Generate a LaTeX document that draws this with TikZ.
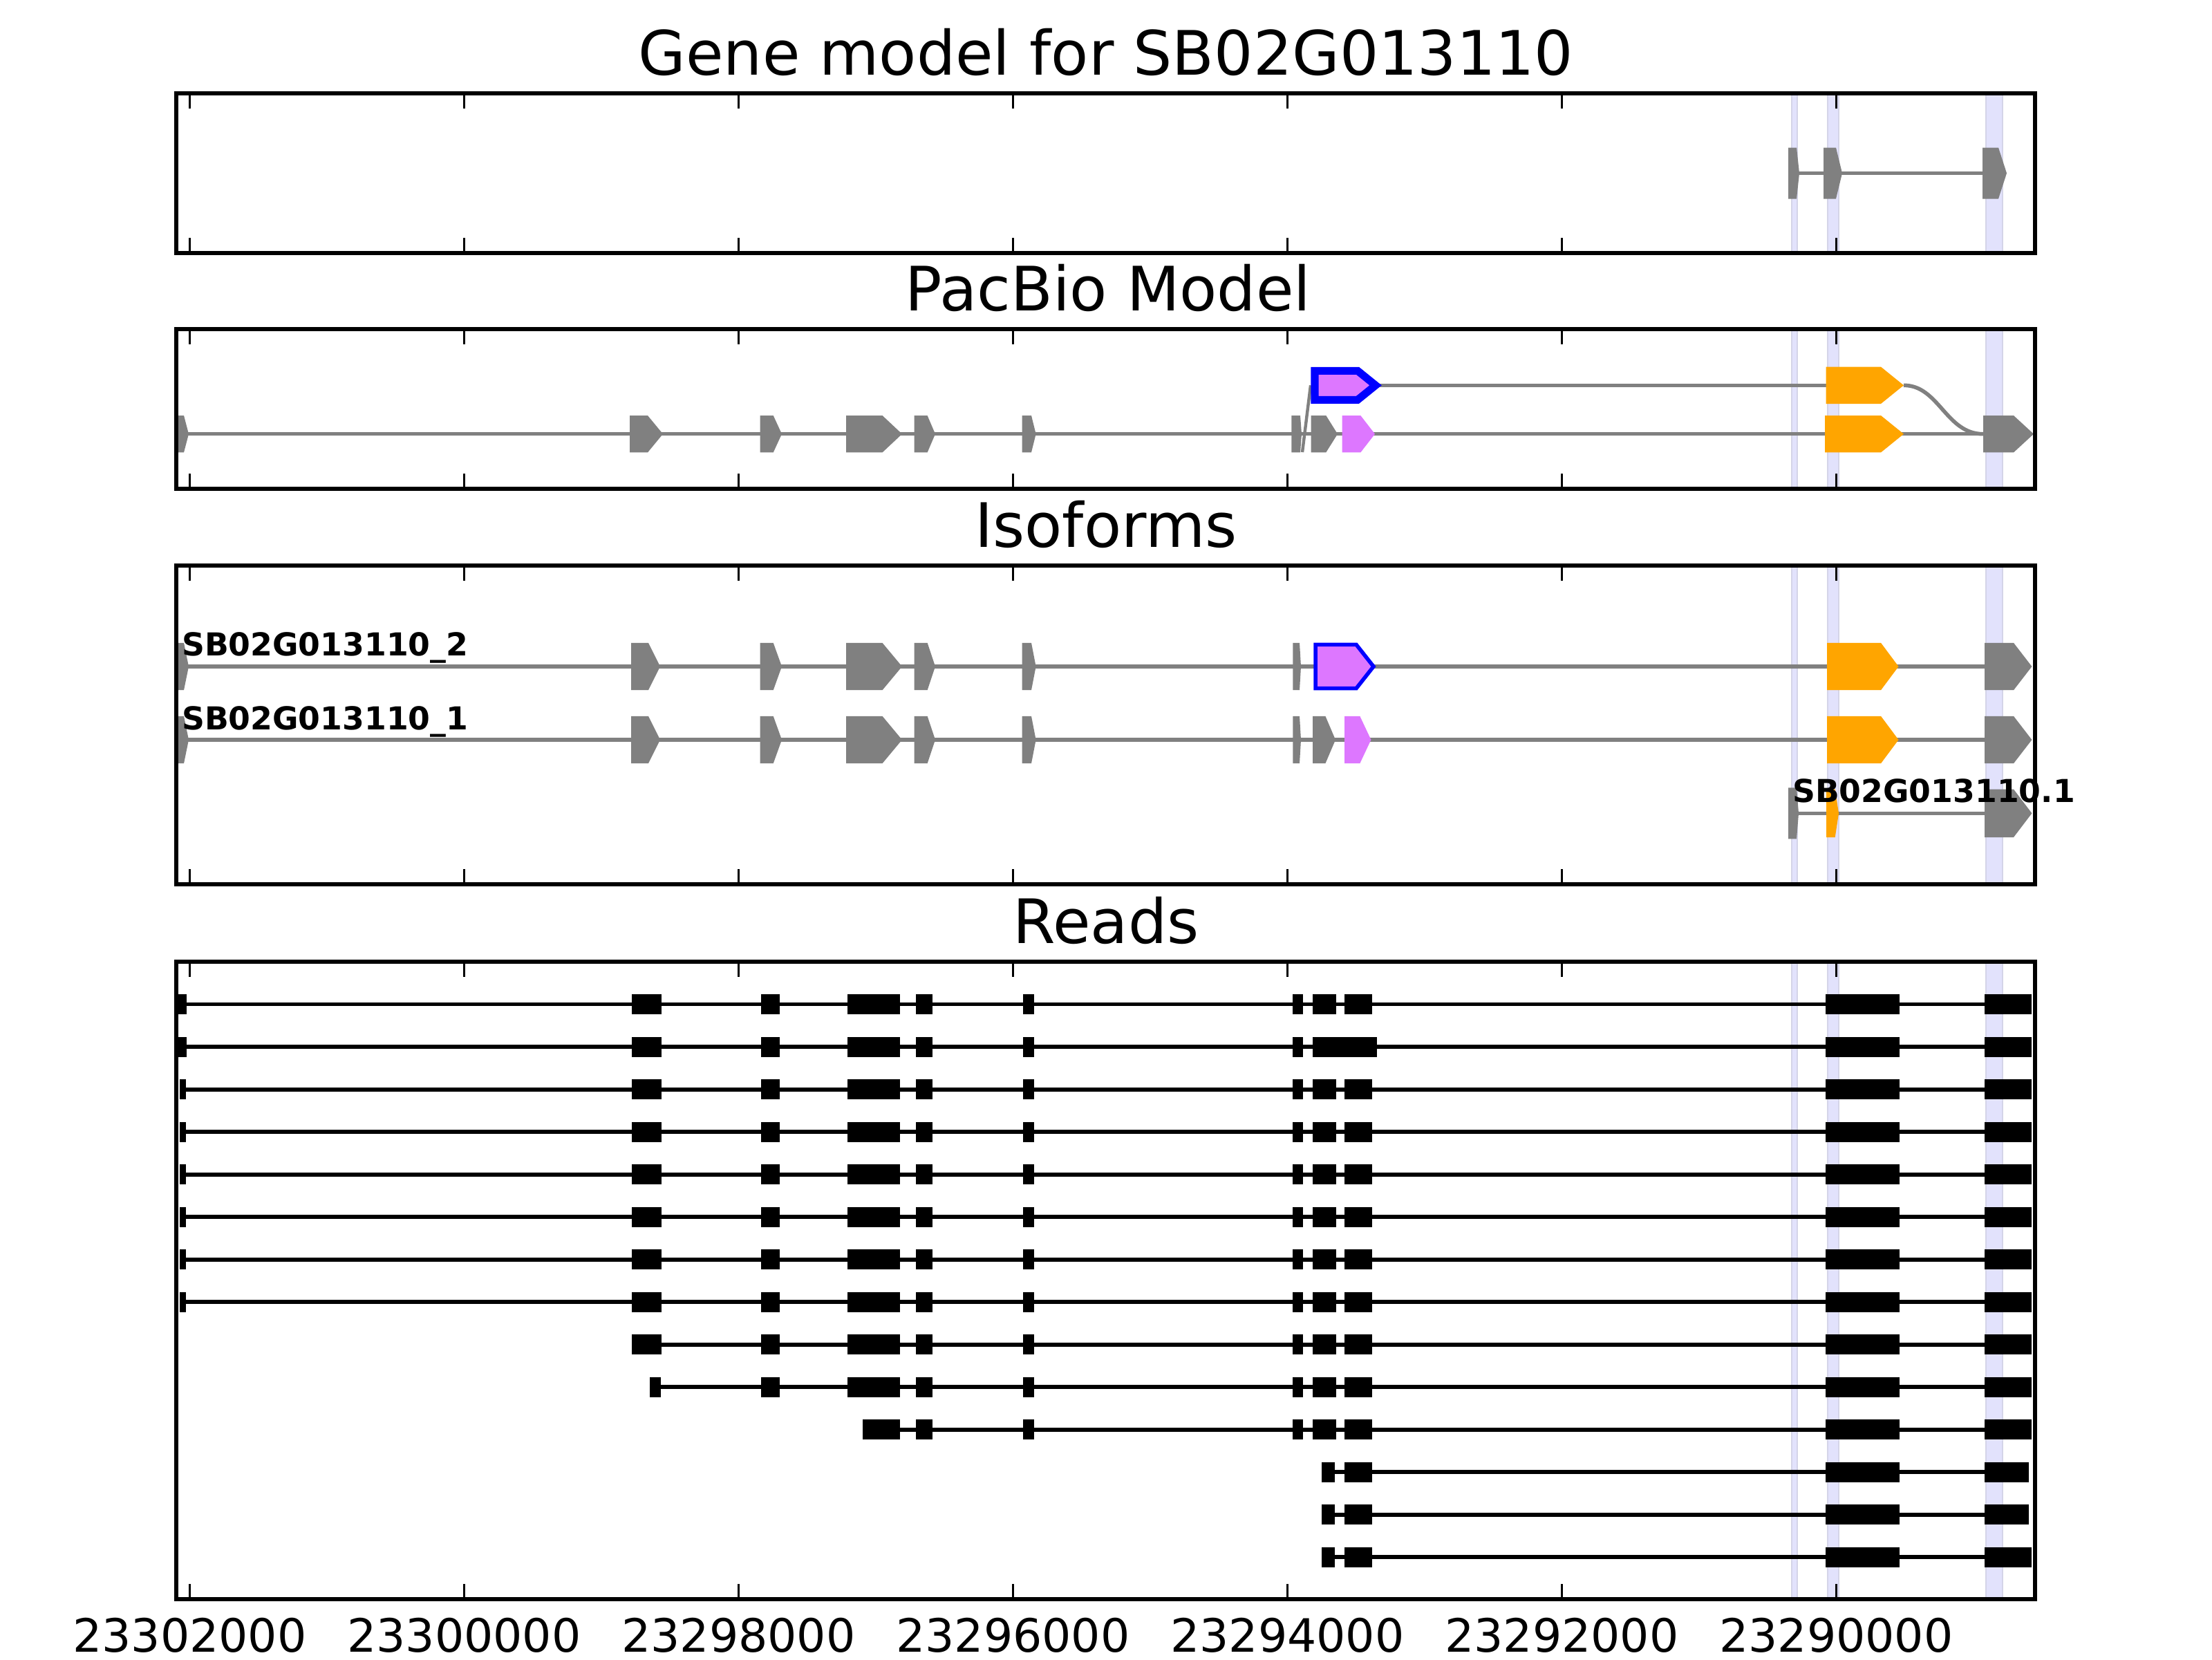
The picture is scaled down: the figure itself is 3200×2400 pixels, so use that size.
\documentclass[tikz,border=0pt]{standalone}
\usepackage{fontspec}
\setmainfont{DejaVu Sans}
\definecolor{genegray}{RGB}{128,128,128}
\definecolor{isopink}{RGB}{221,119,255}
\definecolor{cdsorange}{RGB}{255,165,0}
\definecolor{bandfill}{RGB}{226,226,252}
\definecolor{bandedge}{RGB}{212,212,232}
\tikzset{
  frame/.style={draw=black, line width=1pt},
  tickmark/.style={draw=black, line width=0.5pt},
  intron/.style={draw=genegray, line width=1pt},
  gexon/.style={fill=genegray},
  pexon/.style={fill=isopink},
  oexon/.style={fill=cdsorange},
  bexon/.style={draw=blue, fill=isopink},
  readline/.style={draw=black, line width=1pt},
  readexon/.style={fill=black},
  band/.style={fill=bandfill, draw=bandedge, line width=0.5pt},
  paneltitle/.style={font=\fontsize{16}{19}\selectfont, anchor=base, inner sep=0pt},
  ticklabel/.style={font=\fontsize{12}{14}\selectfont, anchor=base, inner sep=0pt},
  isolabel/.style={font=\fontsize{8.25}{10}\selectfont\bfseries, anchor=base west, inner sep=0pt}
}
% exon arrow: style, start, head start, tip, centre y, half height
\newcommand{\exon}[6]{%
  \path[#1] (#2,{#5-#6}) -- (#3,{#5-#6}) -- (#4,#5) -- (#3,{#5+#6}) -- (#2,{#5+#6}) -- cycle;}
% highlighted bands behind a panel: top, bottom
\newcommand{\bands}[2]{%
  \foreach \bl/\br in {2592/2600, 2644/2660, 2873/2897}
    {\path[band] (\bl,#1) rectangle (\br,#2);}}
% frame and inward ticks of a panel: top, bottom
\newcommand{\panelframe}[2]{%
  \draw[frame] (255,#1) rectangle (2944,#2);
  \foreach \tx in {274.5,671.5,...,2656.5} {
    \draw[tickmark] (\tx,#1) -- ++(0,22);
    \draw[tickmark] (\tx,#2) -- ++(0,-22);
  }}
% one read: centre y, line start, line end, exon blocks
\newcommand{\readrow}[4]{%
  \draw[readline] (#2,#1) -- (#3,#1);
  \foreach \a/\b in {#4}
    {\path[readexon] (\a,{#1-14.5}) rectangle (\b,{#1+14.5});}}

\begin{document}
\begin{tikzpicture}[x=0.00635cm, y=-0.00635cm]
  \useasboundingbox (0,0) rectangle (3200,2400);

  % Gene model
  \node[paneltitle] (genetitle) at (1600,108) {Gene model for SB02G013110};
  \begin{scope}
    \clip (255,135) rectangle (2944,366);
    \bands{135}{366}
    \draw[intron] (2599,250.5) -- (2868,250.5);
    \exon{gexon}{2587}{2599}{2603}{250.5}{37}
    \exon{gexon}{2638}{2656}{2665}{250.5}{37}
    \exon{gexon}{2868}{2891}{2903}{250.5}{37}
  \end{scope}
  \panelframe{135}{366}

  % PacBio Model
  \node[paneltitle] (pacbiotitle) at (1603,449) {PacBio Model};
  \begin{scope}
    \clip (255,476) rectangle (2944,707);
    \bands{476}{707}
    \draw[intron] (250,627.7) -- (2869,627.7);
    \draw[intron] (1990,557.3) -- (2642,557.3);
    \draw[intron] (2754,557.3) .. controls (2805,557.3) and (2815,627.7) .. (2869,627.7);
    \draw[draw=genegray, line width=0.8pt] (1884,654) -- (1896,557.3);
    \foreach \a/\b/\c in {250/266/273, 911/937/959, 1099.5/1118.7/1131, 1224/1276.5/1305,
        1322.5/1341.6/1353, 1478.5/1492/1498.6, 1868.3/1881/1883, 1896.7/1918.3/1935, 2869/2913/2942}
      {\exon{gexon}{\a}{\b}{\c}{627.7}{26.7}}
    \exon{pexon}{1941.7}{1968.3}{1989}{627.7}{26.7}
    \exon{oexon}{2640}{2721}{2754}{627.7}{26.7}
    \exon{bexon, line width=2pt}{1902}{1964}{1990}{557.3}{21}
    \exon{oexon}{2641.6}{2721}{2754}{557.3}{26.7}
  \end{scope}
  \panelframe{476}{707}

  % Isoforms
  \node[paneltitle] (isotitle) at (1600,791) {Isoforms};
  \begin{scope}
    \clip (255,818) rectangle (2944,1279);
    \bands{818}{1279}
    \draw[intron] (250,964) -- (2871,964);
    \draw[intron] (250,1070) -- (2871,1070);
    \draw[intron] (2602,1176.3) -- (2871,1176.3);
    \foreach \ry in {964,1070} {
      \foreach \a/\b/\c in {250/266/273, 913/938/955, 1099.5/1118.7/1131, 1224/1276.5/1305,
          1322.5/1341.6/1353, 1478.5/1492/1498.6, 1870.4/1880/1882, 2871/2913/2939.4}
        {\exon{gexon}{\a}{\b}{\c}{\ry}{34.2}}
      \exon{oexon}{2643}{2721}{2746.5}{\ry}{34.2}
    }
    \exon{bexon, line width=1pt}{1903}{1962}{1987}{964}{31.7}
    \exon{gexon}{1899}{1917.4}{1932}{1070}{34.2}
    \exon{pexon}{1945}{1967.3}{1983.4}{1070}{34.2}
    \exon{gexon}{2587}{2599}{2602}{1176.3}{37}
    \exon{oexon}{2642}{2654.7}{2660}{1176.3}{34.7}
    \exon{gexon}{2871}{2913}{2939.4}{1176.3}{34.7}
  \end{scope}
  \node[isolabel] (iso2) at (262,948) {SB02G013110\_2};
  \node[isolabel] (iso1) at (262,1055) {SB02G013110\_1};
  \node[isolabel] (iso3) at (2592,1160) {SB02G013110.1};
  \panelframe{818}{1279}

  % Reads
  \node[paneltitle] (readstitle) at (1600,1364) {Reads};
  \begin{scope}
    \clip (255,1391) rectangle (2944,2313);
    \bands{1391}{2313}
    \readrow{1452.7}{258}{2939}{258/270, 914/957, 1101/1128, 1226/1302, 1325/1349, 1480/1496, 1870/1885, 1899/1933, 1945/1985, 2641/2748, 2871/2939}
    \readrow{1514.2}{258}{2939}{258/270, 914/957, 1101/1128, 1226/1302, 1325/1349, 1480/1496, 1870/1885, 1899/1992, 2641/2748, 2871/2939}
    \foreach \ry in {1575.7, 1637.2, 1698.7, 1760.2, 1821.7, 1883.2}
      {\readrow{\ry}{260}{2939}{260/269, 914/957, 1101/1128, 1226/1302, 1325/1349, 1480/1496, 1870/1885, 1899/1933, 1945/1985, 2641/2748, 2871/2939}}
    \readrow{1944.7}{914}{2939}{914/957, 1101/1128, 1226/1302, 1325/1349, 1480/1496, 1870/1885, 1899/1933, 1945/1985, 2641/2748, 2871/2939}
    \readrow{2006.2}{940}{2939}{940/956, 1101/1128, 1226/1302, 1325/1349, 1480/1496, 1870/1885, 1899/1933, 1945/1985, 2641/2748, 2871/2939}
    \readrow{2067.7}{1248}{2939}{1248/1302, 1325/1349, 1480/1496, 1870/1885, 1899/1933, 1945/1985, 2641/2748, 2871/2939}
    \readrow{2129.2}{1912}{2935}{1912/1931, 1945/1985, 2641/2748, 2871/2935}
    \readrow{2190.7}{1912}{2935}{1912/1931, 1945/1985, 2641/2748, 2871/2935}
    \readrow{2252.2}{1912}{2939}{1912/1931, 1945/1985, 2641/2748, 2871/2939}
  \end{scope}
  \panelframe{1391}{2313}

  \foreach \tx/\lab in {274.5/23302000, 671.5/23300000, 1068.5/23298000, 1465.5/23296000,
      1862.5/23294000, 2259.5/23292000, 2656.5/23290000}
    {\node[ticklabel] (tl\lab) at (\tx,2389) {\lab};}
\end{tikzpicture}
\end{document}
